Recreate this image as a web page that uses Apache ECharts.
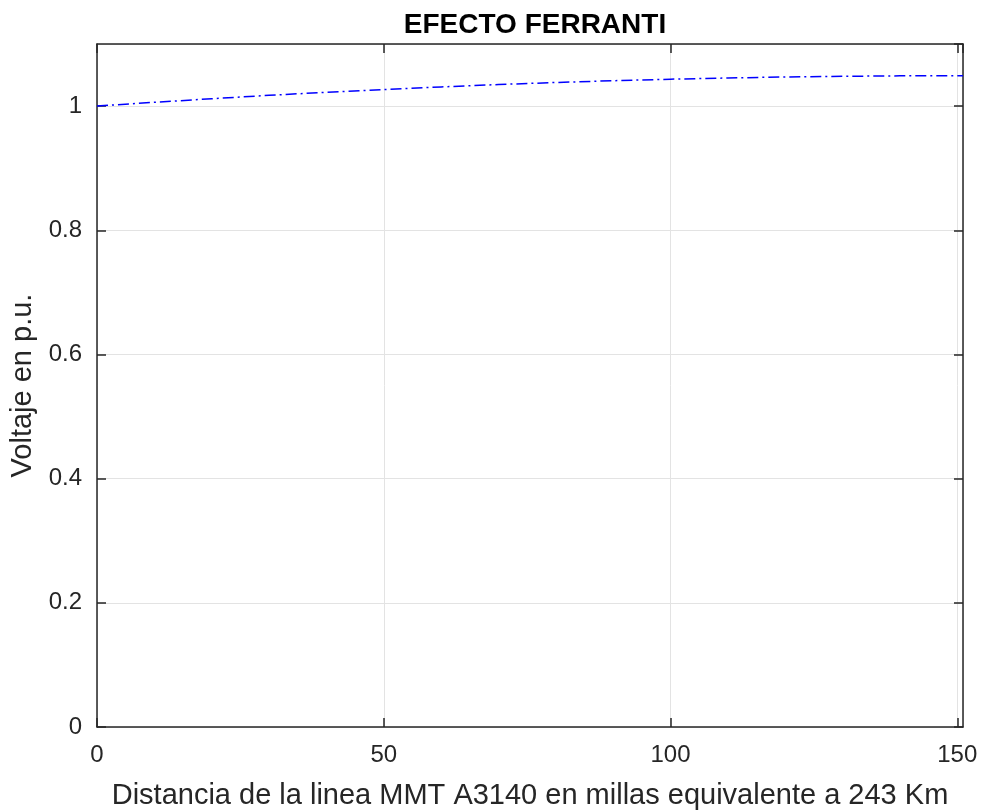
<!DOCTYPE html>
<html>
<head>
<meta charset="utf-8">
<script src="https://cdn.jsdelivr.net/npm/echarts@6/dist/echarts.min.js"></script>
<style>html,body{margin:0;padding:0;background:#fff;overflow:hidden}#c{width:984px;height:810px}</style>
</head>
<body>
<div id="c"></div>
<script>
const distancia = [0, 10, 20, 30, 40, 50, 60, 70, 80, 90, 100, 110, 120, 130, 140, 151];
const voltaje = [1.0000, 1.0061, 1.0119, 1.0173, 1.0223, 1.0267, 1.0309, 1.0347, 1.0380, 1.0409, 1.0433, 1.0453, 1.0469, 1.0480, 1.0487, 1.0490];
const xTicks = [0, 50, 100, 150];
const yTicks = [0, 0.2, 0.4, 0.6, 0.8, 1];

const font = '"Liberation Sans", Arial, Helvetica, sans-serif';
const axisCol = '#262626';
const chart = echarts.init(document.getElementById('c'), null, {renderer: 'canvas', width: 984, height: 810});
const common = {
  axisLine: {show: true, onZero: false, lineStyle: {color: axisCol, width: 1.5}},
  axisTick: {show: true, inside: true, length: 9, lineStyle: {color: axisCol, width: 1.5}}
};
chart.setOption({
  animation: false,
  backgroundColor: '#fff',
  title: {
    text: 'EFECTO FERRANTI', left: 530, top: 6, textAlign: 'center',
    textStyle: {fontFamily: font, fontWeight: 'bold', fontSize: 28, color: '#000'}
  },
  grid: {left: 97, right: 21, top: 44, bottom: 83, containLabel: false, outerBoundsMode: 'none'},
  xAxis: [
    Object.assign({
      type: 'value', min: 0, max: 151, interval: 50, position: 'bottom',
      name: 'Distancia de la linea MMT A3140 en millas equivalente a 243 Km',
      nameLocation: 'middle', nameGap: 54,
      nameTextStyle: {fontFamily: font, fontSize: 29, color: axisCol},
      axisLabel: {fontFamily: font, fontSize: 24, color: axisCol, margin: 16, showMaxLabel: false,
        formatter: v => xTicks.includes(v) ? String(v) : ''},
      splitLine: {show: true, lineStyle: {color: '#e3e3e3', width: 1}}
    }, common),
    Object.assign({
      type: 'value', min: 0, max: 151, interval: 50, position: 'top',
      axisLabel: {show: false}, splitLine: {show: false}
    }, common)
  ],
  yAxis: [
    Object.assign({
      type: 'value', min: 0, max: 1.1, interval: 0.2, position: 'left',
      name: 'Voltaje en p.u.', nameLocation: 'middle', nameGap: 56,
      nameTextStyle: {fontFamily: font, fontSize: 29, color: axisCol},
      axisLabel: {fontFamily: font, fontSize: 24, color: axisCol, margin: 15, showMaxLabel: false,
        formatter: v => yTicks.some(t => Math.abs(t - v) < 1e-9) ? String(+v.toFixed(1)) : ''},
      splitLine: {show: true, lineStyle: {color: '#e3e3e3', width: 1}}
    }, common),
    Object.assign({
      type: 'value', min: 0, max: 1.1, interval: 0.2, position: 'right',
      axisLabel: {show: false}, splitLine: {show: false}
    }, common)
  ],
  series: [{
    type: 'line',
    data: distancia.map((d, i) => [d, voltaje[i]]),
    xAxisIndex: 0, yAxisIndex: 0,
    showSymbol: false, symbol: 'none', smooth: false,
    lineStyle: {color: '#0000ff', width: 1.5, type: [11, 4, 2, 4]}
  }]
});
</script>
</body>
</html>
